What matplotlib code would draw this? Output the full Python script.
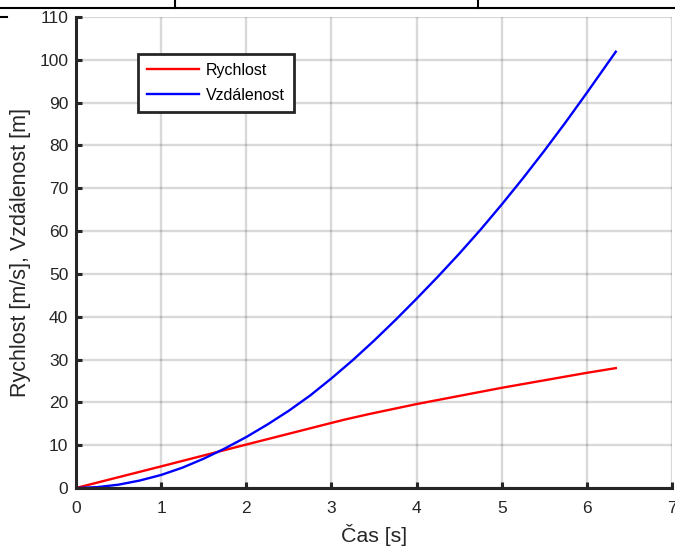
import matplotlib
matplotlib.use("Agg")
import matplotlib.pyplot as plt
from matplotlib.lines import Line2D

plt.rcParams['font.family'] = ['Liberation Sans', 'DejaVu Sans']

# Data
t_v = [0, 1, 2, 3.0, 3.15, 3.45, 4, 5, 6, 6.34]
rychlost = [0, 5.05, 10.15, 15.2, 15.95, 17.3, 19.6, 23.4, 26.9, 28.0]

t_s = [0, 0.25, 0.5, 0.75, 1.0, 1.25, 1.5, 1.75, 2.0, 2.25, 2.5, 2.75, 3.0,
       3.25, 3.5, 3.75, 4.0, 4.25, 4.5, 4.75, 5.0, 5.25, 5.5, 5.75, 6.0, 6.34]
vzdalenost = [0, 0.2, 0.78, 1.75, 3.05, 4.75, 6.85, 9.25, 11.9, 14.85, 18.05, 21.6, 25.6,
              29.85, 34.4, 39.2, 44.2, 49.35, 54.7, 60.3, 66.2, 72.35, 78.75, 85.4, 92.3, 101.9]

xticks = [0, 1, 2, 3, 4, 5, 6, 7]
yticks = [0, 10, 20, 30, 40, 50, 60, 70, 80, 90, 100, 110]

W, H = 675, 547
fig = plt.figure(figsize=(W / 100, H / 100), dpi=100)
ax = fig.add_axes([76 / W, 1 - 488 / H, (672 - 76) / W, (488 - 17) / H])

ax.plot(t_v, rychlost, color='#ff0000', lw=1.7, label='Rychlost', zorder=3)
ax.plot(t_s, vzdalenost, color='#0000ff', lw=1.7, label='Vzdálenost', zorder=3)

ax.set_xlim(0, 7)
ax.set_ylim(0, 110)
ax.set_xticks(xticks)
ax.set_yticks(yticks)
ax.grid(True, color='black', alpha=0.15, lw=1.7)
ax.set_axisbelow(True)

for s in ['top', 'right']:
    ax.spines[s].set_visible(False)
for s in ['left', 'bottom']:
    ax.spines[s].set_color('#262626')
    ax.spines[s].set_linewidth(2.2)
    ax.spines[s].set_zorder(4)

ax.tick_params(direction='in', length=4, width=2.2, color='#262626',
               labelcolor='#262626', labelsize=12.5, top=False, right=False)
ax.tick_params(axis='x', pad=9.5)
ax.tick_params(axis='y', pad=5.5)

ax.set_xlabel('Čas [s]', fontsize=15.3, color='#262626', labelpad=5.5)
ax.set_ylabel('Rychlost [m/s], Vzdálenost [m]', fontsize=15.5, color='#262626', labelpad=6)

leg = ax.legend(loc='upper left', bbox_to_anchor=(0.104, 0.921), borderaxespad=0,
                fontsize=11.5, frameon=True, fancybox=False, edgecolor='#262626',
                framealpha=1, handlelength=3.3, handletextpad=0.4,
                labelspacing=0.62, borderpad=0.55)
leg.get_frame().set_linewidth(2)

# Screenshot artefacts at the top edge
fig.add_artist(Line2D([0, 1], [1 - 8 / H, 1 - 8 / H], color='black', lw=1.5, transform=fig.transFigure))
for xp in [175, 478]:
    fig.add_artist(Line2D([xp / W, xp / W], [1, 1 - 8 / H], color='black', lw=1.5, transform=fig.transFigure))
fig.add_artist(Line2D([0, 7 / W], [1 - 17 / H, 1 - 17 / H], color='black', lw=1.5, transform=fig.transFigure))

fig.savefig('out.png', dpi=100)
